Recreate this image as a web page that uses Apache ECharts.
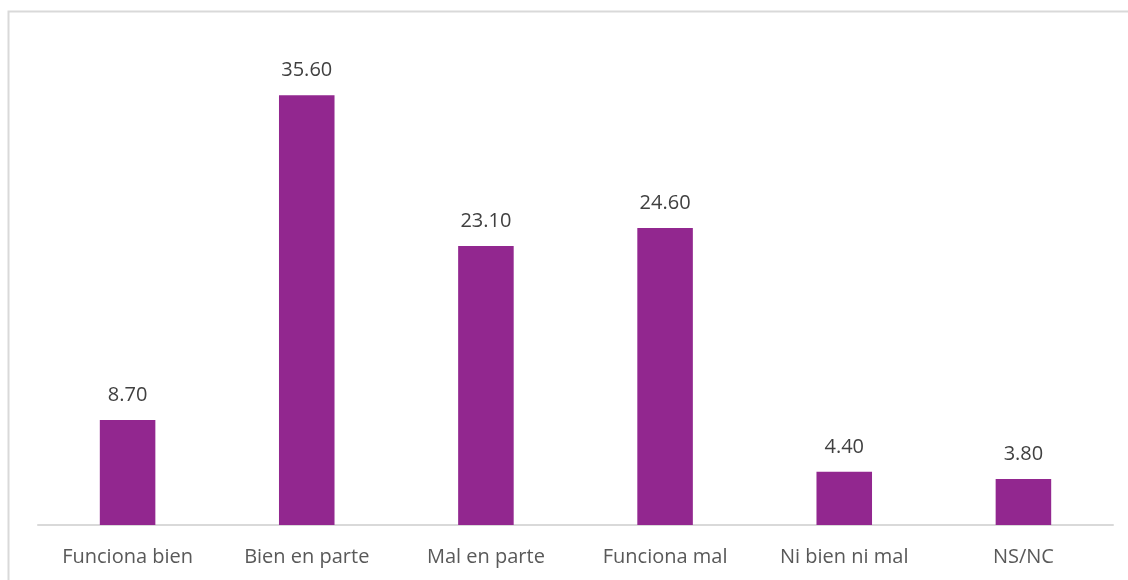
<!DOCTYPE html>
<html>
<head>
<meta charset="utf-8">
<script src="https://cdn.jsdelivr.net/npm/echarts@6/dist/echarts.min.js"></script>
<style>
  html, body { margin: 0; padding: 0; background: #fff; }
  #chart { width: 1128px; height: 580px; }
</style>
</head>
<body>
<div id="chart"></div>
<script>
// categorías y porcentajes
const categories = ['Funciona bien', 'Bien en parte', 'Mal en parte', 'Funciona mal', 'Ni bien ni mal', 'NS/NC']
const values = [8.7, 35.6, 23.1, 24.6, 4.4, 3.8]

const chart = echarts.init(document.getElementById('chart'))

chart.setOption({
  animation: false,
  textStyle: { fontFamily: 'Open Sans' },
  graphic: [{
    type: 'rect',
    shape: { x: 8.5, y: 11.5, width: 1140, height: 600 },
    style: { fill: 'none', stroke: '#d9d9d9', lineWidth: 2 },
    silent: true
  }],
  grid: { left: 38, right: 15, top: 42, bottom: 55 },
  xAxis: {
    type: 'category',
    data: categories,
    axisLine: { lineStyle: { color: '#d9d9d9', width: 2 } },
    axisTick: { show: false },
    axisLabel: { color: '#595959', fontSize: 20, margin: 22 }
  },
  yAxis: {
    type: 'value',
    min: 0,
    max: 40,
    show: false,
    splitLine: { show: false }
  },
  series: [{
    type: 'bar',
    data: values,
    barWidth: '31%',
    itemStyle: { color: '#92278F' },
    label: {
      show: true,
      position: 'top',
      distance: 15,
      color: '#404040',
      fontSize: 20,
      formatter: p => p.value.toFixed(2)
    }
  }]
})
</script>
</body>
</html>
